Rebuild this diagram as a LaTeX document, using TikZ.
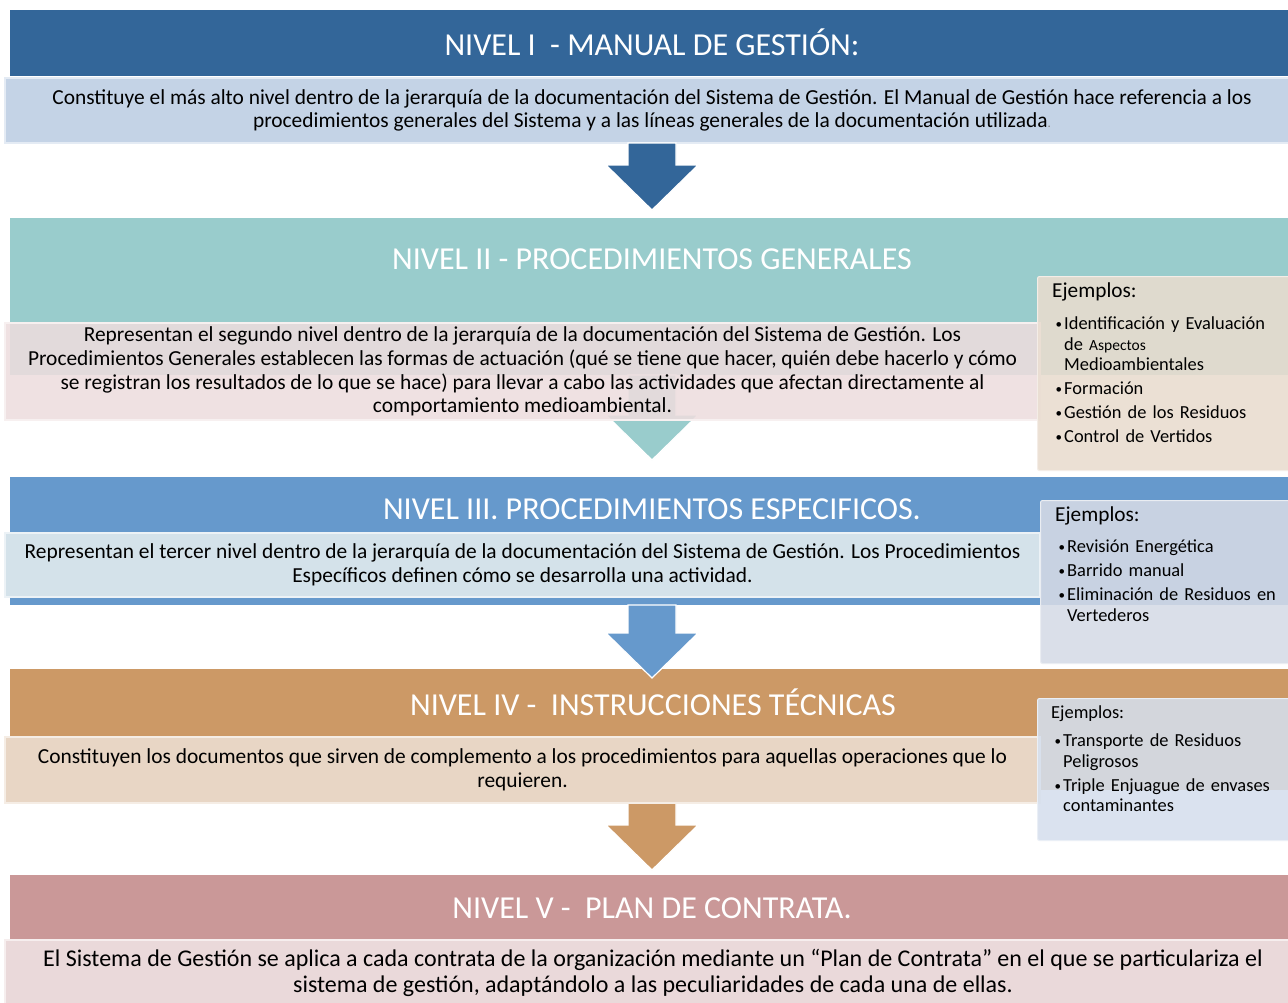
\documentclass[tikz,border=0pt]{standalone}
\usepackage{fontspec}
\setmainfont{Carlito}
\usetikzlibrary{calc}

\definecolor{azulI}{HTML}{336699}
\definecolor{descI}{HTML}{C4D3E6}
\definecolor{verdeII}{HTML}{99CCCC}
\definecolor{rosaII}{HTML}{EDDDDE}
\definecolor{ejII}{HTML}{E9DCCF}
\definecolor{azulIII}{HTML}{6699CC}
\definecolor{descIII}{HTML}{D4E2EA}
\definecolor{ejIII}{HTML}{D6DBE6}
\definecolor{ocreIV}{HTML}{CC9966}
\definecolor{descIV}{HTML}{E8D6C5}
\definecolor{ejIV}{HTML}{D5DFED}
\definecolor{rosaV}{HTML}{CA9898}
\definecolor{descV}{HTML}{EAD9DA}

% vineta de los ejemplos
\newcommand{\ejitem}[1]{\par\hangindent=12pt\hangafter=1\noindent
  \makebox[12pt][l]{\hspace{3.5pt}\raisebox{1pt}{\fontsize{13}{13}\selectfont\textbullet}}#1\par}

% flecha de bloque entre niveles
\newcommand{\flecha}[3]{%
  \path (#2) coordinate (fa) (#3) coordinate (fb);
  \filldraw[fill=#1, draw=white, line width=1.2pt]
    ($(fa)+(-24,0)$) -- ($(fa)+(24,0)$) -- ($(fb)+(24,-45)$) -- ($(fb)+(46,-45)$)
    -- (fb) -- ($(fb)+(-46,-45)$) -- ($(fb)+(-24,-45)$) -- cycle;}

\begin{document}
\begin{tikzpicture}[x=1pt, y=-1pt,
    banda/.style={anchor=north west, inner sep=0pt, outer sep=0pt, minimum width=1290, fill=#1},
    titulo/.style={text=white, inner sep=0pt, font=\fontsize{32}{38}\selectfont},
    desc/.style={anchor=north west, inner sep=0pt, outer sep=0pt, fill=#1, draw=#1!45!white,
      line width=2pt, align=center, font=\fontsize{21.4}{23.6}\selectfont},
    cajaej/.style={anchor=north west, inner sep=0pt, fill=#1, draw=#1!50!white, line width=1pt,
      rounded corners=2pt, minimum width=260, fill opacity=0.88},
    ejtexto/.style={anchor=north west, inner sep=0pt, text width=228, align=left,
      font=\fontsize{18.4}{20.5}\selectfont}]

  \useasboundingbox (0,0) rectangle (1288,1002);
  \fill[white] (0,0) rectangle (1288,1002);

  % bandas de cada nivel
  \node[banda=azulI, minimum height=66] (b1) at (10,10) {};
  \node[banda=verdeII, minimum height=157] (b2) at (10,218) {};
  \node[banda=azulIII, minimum height=128] (b3) at (10,477) {};
  \node[banda=ocreIV, minimum height=121] (b4) at (10,669) {};
  \node[banda=rosaV, minimum height=65] (b5) at (10,875) {};

  \coordinate (p1) at (652,210);
  \coordinate (p2) at (652,460);
  \coordinate (p3) at (652,678);
  \coordinate (p4) at (652,870);

  \flecha{verdeII}{b2.south -| p2}{p2}
  \flecha{azulIII}{b3.south -| p3}{p3}
  \flecha{ocreIV}{b4.south -| p4}{p4}

  \node[titulo] (t1) at (652,42) {NIVEL I\ \ - MANUAL DE GESTIÓN:};
  \node[titulo] (t2) at (652,259) {NIVEL II - PROCEDIMIENTOS GENERALES};
  \node[titulo] (t3) at (652,509) {NIVEL III. PROCEDIMIENTOS ESPECIFICOS.};
  \node[titulo] (t4) at (653,702) {NIVEL IV -\ \ INSTRUCCIONES TÉCNICAS};
  \node[titulo] (t5) at (652,908) {NIVEL V -\ \ PLAN DE CONTRATA.};

  % descripciones
  \node[desc=descI, minimum width=1294, minimum height=65] (d1) at (5,78)
    {Constituye el más alto nivel dentro de la jerarquía de la documentación del Sistema de Gestión. El Manual de Gestión hace referencia a los\\
     procedimientos generales del Sistema y a las líneas generales de la documentación utilizada{\fontsize{13}{14}\selectfont\color{gray}.}};
  \flecha{azulI}{d1.south -| p1}{p1}
  \node[desc=rosaII, minimum width=1035, minimum height=97, fill opacity=0.88, text opacity=1] (d2) at (5,323)
    {Representan el segundo nivel dentro de la jerarquía de la documentación del Sistema de Gestión. Los\\
     Procedimientos Generales establecen las formas de actuación (qué se tiene que hacer, quién debe hacerlo y cómo\\
     se registran los resultados de lo que se hace) para llevar a cabo las actividades que afectan directamente al\\
     comportamiento medioambiental.};
  \node[desc=descIII, minimum width=1035, minimum height=64] (d3) at (5,533)
    {Representan el tercer nivel dentro de la jerarquía de la documentación del Sistema de Gestión. Los Procedimientos\\
     Específicos definen cómo se desarrolla una actividad.};
  \node[desc=descIV, minimum width=1035, minimum height=66] (d4) at (5,737)
    {Constituyen los documentos que sirven de complemento a los procedimientos para aquellas operaciones que lo\\
     requieren.};
  \node[desc=descV, minimum width=1296, minimum height=66, font=\fontsize{24}{26}\selectfont] (d5) at (5,940)
    {El Sistema de Gestión se aplica a cada contrata de la organización mediante un “Plan de Contrata” en el que se particulariza el\\
     sistema de gestión, adaptándolo a las peculiaridades de cada una de ellas.};

  % ejemplos
  \node[cajaej=ejII, minimum height=194] (e2) at (1037,276) {};
  \node[cajaej=ejIII, minimum height=163] (e3) at (1040,500) {};
  \node[cajaej=ejIV, minimum height=142] (e4) at (1037,698) {};

  \node[ejtexto] (x2) at (1052,283) {\setlength{\parskip}{3.5pt}%
    {\fontsize{21.3}{25}\selectfont Ejemplos:}\par\vspace{8pt}
    \ejitem{Identificación y Evaluación\newline de {\fontsize{15.5}{17}\selectfont Aspectos}\newline Medioambientales}
    \ejitem{Formación}
    \ejitem{Gestión de los Residuos}
    \ejitem{Control de Vertidos}};
  \node[ejtexto] (x3) at (1055,507) {\setlength{\parskip}{3.5pt}%
    {\fontsize{21.3}{25}\selectfont Ejemplos:}\par\vspace{7pt}
    \ejitem{Revisión Energética}
    \ejitem{Barrido manual}
    \ejitem{Eliminación de Residuos en\newline Vertederos}};
  \node[ejtexto] (x4) at (1051,706) {\setlength{\parskip}{3.5pt}%
    Ejemplos:\par\vspace{4pt}
    \ejitem{Transporte de Residuos\newline Peligrosos}
    \ejitem{Triple Enjuague de envases\newline contaminantes}};
\end{tikzpicture}
\end{document}
